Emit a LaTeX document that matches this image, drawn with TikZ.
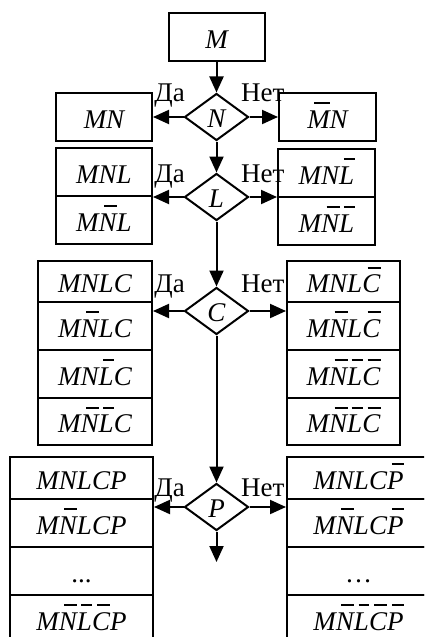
\documentclass[tikz,border=0pt]{standalone}
\usepackage{fontspec}
\setmainfont{Liberation Serif}
\usetikzlibrary{shapes.geometric,arrows.meta}
% letter with a bar over it (negation)
\newcommand\ob[1]{\setbox0=\hbox{#1}\rlap{\kern0.3\wd0\rule[24pt]{0.72\wd0}{1.8pt}}\box0}
\begin{document}
\begin{tikzpicture}[x=1pt,y=-1pt,
  cell/.style={draw, rectangle, line width=2pt, inner sep=0pt,
    text height=22pt, text depth=0pt,
    font=\fontsize{27}{31}\selectfont\itshape},
  test/.style={draw, diamond, line width=2pt, inner sep=0pt,
    minimum width=64pt, minimum height=47pt,
    text height=21pt, text depth=0pt,
    font=\fontsize{27}{31}\selectfont\itshape},
  lbl/.style={inner sep=0pt, font=\fontsize{27}{31}\selectfont},
  conn/.style={line width=2pt, -{Triangle[length=16pt,width=14pt]}}]
\useasboundingbox (0,0) rectangle (424,637);
\clip (0,0) rectangle (424,637);

% start
\node[cell, minimum width=96pt, minimum height=48pt] (m) at (216.5,37) {M};

% stage N
\node[test] (dn) at (216.5,117) {N};
\node[cell, minimum width=96pt, minimum height=48pt] (mn) at (104,117) {MN};
\node[cell, minimum width=97pt, minimum height=48pt] (nmn) at (327.5,117) {\ob{M}N};
\node[lbl, anchor=base east] (yn) at (185,101) {Да};
\node[lbl, anchor=base west] (nn) at (241,101) {Нет};

% stage L
\node[test] (dl) at (216.5,197) {L};
\node[cell, minimum width=96pt, minimum height=48pt] (la) at (104,172) {MNL};
\node[cell, minimum width=96pt, minimum height=48pt] (lb) at (104,220) {M\ob{N}L};
\node[cell, minimum width=97pt, minimum height=48pt] (lc) at (326.5,173) {MN\ob{L}};
\node[cell, minimum width=97pt, minimum height=48pt] (ld) at (326.5,221) {M\ob{N}\ob{L}};
\node[lbl, anchor=base east] (yl) at (185,182) {Да};
\node[lbl, anchor=base west] (nl) at (241,182) {Нет};

% stage C
\node[test] (dc) at (216.5,311) {C};
\node[cell, minimum width=114pt, minimum height=41pt] (ca) at (95,281.5) {MNLC};
\node[cell, minimum width=114pt, minimum height=48pt] (cb) at (95,326) {M\ob{N}LC};
\node[cell, minimum width=114pt, minimum height=48pt] (cc) at (95,374) {MN\ob{L}C};
\node[cell, minimum width=114pt, minimum height=47pt] (cd) at (95,421.5) {M\ob{N}\ob{L}C};
\node[cell, minimum width=113pt, minimum height=41pt] (ce) at (343.5,281.5) {MNL\ob{C}};
\node[cell, minimum width=113pt, minimum height=48pt] (cf) at (343.5,326) {M\ob{N}L\ob{C}};
\node[cell, minimum width=113pt, minimum height=48pt] (cg) at (343.5,374) {M\ob{N}\ob{L}\ob{C}};
\node[cell, minimum width=113pt, minimum height=47pt] (ch) at (343.5,421.5) {M\ob{N}\ob{L}\ob{C}};
\node[lbl, anchor=base east] (yc) at (185,292) {Да};
\node[lbl, anchor=base west] (nc) at (241,292) {Нет};

% stage P
\node[test] (dp) at (216.5,507) {P};
\node[cell, minimum width=143pt, minimum height=42pt] (pa) at (81.5,478) {MNLCP};
\node[cell, minimum width=143pt, minimum height=48pt] (pb) at (81.5,523) {M\ob{N}LCP};
\node[cell, minimum width=143pt, minimum height=48pt] (pc) at (81.5,571) {\upshape ...};
\node[cell, minimum width=143pt, minimum height=48pt] (pd) at (81.5,619) {M\ob{N}\ob{L}\ob{C}P};
\node[cell, minimum width=143pt, minimum height=42pt] (pe) at (358.5,478) {MNLC\ob{P}};
\node[cell, minimum width=143pt, minimum height=48pt] (pf) at (358.5,523) {M\ob{N}LC\ob{P}};
\node[cell, minimum width=143pt, minimum height=48pt] (pg) at (358.5,571) {\upshape …};
\node[cell, minimum width=143pt, minimum height=48pt] (ph) at (358.5,619) {M\ob{N}\ob{L}\ob{C}\ob{P}};
\node[lbl, anchor=base east] (yp) at (185,496) {Да};
\node[lbl, anchor=base west] (np) at (241,496) {Нет};
\coordinate (out) at (216.5,562);

% flow downwards
\draw[conn] (m) -- (dn);
\draw[conn] (dn) -- (dl);
\draw[conn] (dl) -- (dc);
\draw[conn] (dc) -- (dp);
\draw[conn] (dp) -- (out);

% branches
\draw[conn] (dn.west) -- (mn.east);
\draw[conn] (dn.east) -- (nmn.west);
\draw[conn] (dl.west) -- (dl.west -| la.east);
\draw[conn] (dl.east) -- (dl.east -| lc.west);
\draw[conn] (dc.west) -- (dc.west -| ca.east);
\draw[conn] (dc.east) -- (dc.east -| ce.west);
\draw[conn] (dp.west) -- (dp.west -| pa.east);
\draw[conn] (dp.east) -- (dp.east -| pe.west);
\end{tikzpicture}
\end{document}
